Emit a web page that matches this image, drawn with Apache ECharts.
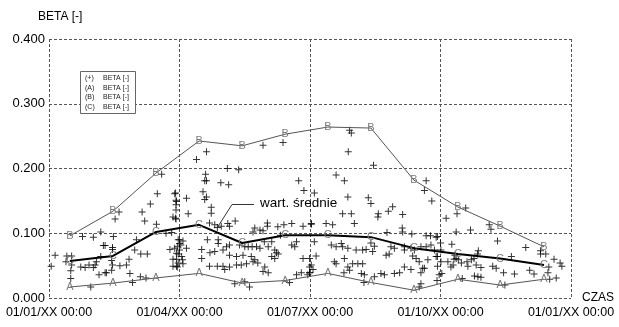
<!DOCTYPE html>
<html>
<head>
<meta charset="utf-8">
<script src="https://cdn.jsdelivr.net/npm/echarts@6/dist/echarts.min.js"></script>
<style>html,body{margin:0;padding:0;background:#fff;}#c{width:619px;height:327px;}</style>
</head>
<body>
<div id="c"></div>
<script>
// x positions in months from 01/01
var monthPos = [0.48, 1.47, 2.46, 3.45, 4.44, 5.43, 6.41, 7.40, 8.39, 9.40, 10.37, 11.38];
var seriesA = [0.017, 0.023, 0.031, 0.038, 0.023, 0.027, 0.038, 0.024, 0.012, 0.029, 0.020, 0.029];
var seriesB = [0.096, 0.134, 0.193, 0.2425, 0.235, 0.253, 0.264, 0.2625, 0.182, 0.1405, 0.111, 0.079];
var seriesC = [0.057, 0.065, 0.102, 0.113, 0.085, 0.097, 0.097, 0.094, 0.077, 0.068, 0.061, 0.051];
var xTickLabels = ['01/01/XX 00:00', '01/04/XX 00:00', '01/07/XX 00:00', '01/10/XX 00:00', '01/01/XX 00:00'];
var legendRows = [['(+)', 'BETA [-]'], ['(A)', 'BETA [-]'], ['(B)', 'BETA [-]'], ['(C)', 'BETA [-]']];
var scatterPoints = [
[2.59,0.191],[2.49,0.161],[2.89,0.161],[2.33,0.145],[2.93,0.149],[1.61,0.133],[2.14,0.133],[1.52,0.122],[2.2,0.119],[2.47,0.114],[2.85,0.125],[2.92,0.122],[0.77,0.095],[1.02,0.094],[1.19,0.102],[1.48,0.095],[2.69,0.100],[2.82,0.101],[0.14,0.066],[0.41,0.065],[0.52,0.065],[0.39,0.056],[0.05,0.049],[1.25,0.081],[1.29,0.081],[1.46,0.078],[1.46,0.075],[2.01,0.090],[1.97,0.074],[2.11,0.068],[2.26,0.068],[1.84,0.060],[1.19,0.064],[1.09,0.056],[0.73,0.048],[0.83,0.047],[1.02,0.047],[1.06,0.051],[0.92,0.051],[0.52,0.051],[0.5,0.042],[0.5,0.030],[1.44,0.058],[1.46,0.051],[1.63,0.050],[1.78,0.051],[1.15,0.036],[1.29,0.039],[1.32,0.039],[1.44,0.043],[0.96,0.017],[1.86,0.038],[1.92,0.024],[2.1,0.033],[2.23,0.031],[2.78,0.075],[2.89,0.077],[3.0,0.074],[2.97,0.090],[3.0,0.084],[2.85,0.060],[2.93,0.060],[2.85,0.049],[2.93,0.049],[3.07,0.059],[2.97,0.068],
[3.62,0.226],[3.39,0.214],[4.92,0.236],[5.38,0.240],[4.10,0.200],[4.36,0.198],[3.60,0.191],[3.62,0.181],[3.58,0.181],[3.95,0.178],[4.13,0.175],[5.74,0.181],[5.86,0.166],[3.54,0.164],[3.62,0.156],[3.58,0.152],[3.16,0.154],[2.91,0.162],[2.92,0.151],[2.92,0.144],[2.92,0.136],[3.73,0.140],[3.73,0.131],[3.2,0.130],[2.91,0.123],
[3.69,0.116],[3.81,0.113],[3.87,0.109],[3.96,0.111],[4.11,0.115],[4.15,0.111],[4.28,0.119],
[4.73,0.108],[4.85,0.105],[4.69,0.102],[5.02,0.116],[5.02,0.111],[4.92,0.104],[5.26,0.110],[5.40,0.113],[5.32,0.097],[5.58,0.115],[5.84,0.111],[6.03,0.114],
[3.0,0.090],[3.08,0.088],[2.95,0.079],[3.03,0.082],[3.16,0.077],[2.93,0.069],[3.05,0.064],[2.97,0.054],[2.95,0.048],
[3.64,0.090],[3.89,0.090],[3.89,0.084],[4.08,0.079],[4.15,0.082],[4.38,0.082],
[4.5,0.079],[4.58,0.079],[4.67,0.079],[4.77,0.079],[4.85,0.077],[4.95,0.087],[5.04,0.079],[5.12,0.087],
[5.19,0.074],[5.23,0.070],[5.27,0.068],[5.12,0.064],[5.19,0.061],
[5.58,0.082],[5.65,0.079],[5.69,0.087],
[3.51,0.075],[3.70,0.070],[3.81,0.072],[4.0,0.074],[4.15,0.066],[4.31,0.064],[4.46,0.066],
[4.65,0.064],[4.73,0.059],[4.69,0.056],[4.80,0.054],[4.92,0.041],[5.04,0.039],[4.96,0.048],
[3.69,0.049],[3.87,0.049],[4.0,0.049],[4.04,0.044],[4.15,0.048],[4.31,0.051],[4.42,0.051],[4.54,0.053],
[3.51,0.061],[3.08,0.053],
[4.61,0.017],[4.27,0.022],[4.5,0.025],
[5.53,0.024],[5.69,0.036],[5.80,0.039],
[5.99,0.048],[5.99,0.039],[5.95,0.036],[5.84,0.061],
[6.91,0.259],[6.95,0.255],[6.88,0.226],[7.46,0.205],[6.60,0.190],[6.79,0.181],[8.67,0.181],[8.63,0.166],[8.80,0.150],[6.10,0.162],[6.87,0.156],[7.34,0.155],[7.40,0.146],[7.90,0.141],[7.80,0.134],[7.57,0.130],[7.56,0.125],[8.13,0.129],[6.75,0.130],[6.95,0.130],[7.02,0.115],[6.03,0.115],[6.37,0.115],[6.52,0.113],[8.12,0.108],[8.13,0.102],[8.34,0.099],[8.67,0.096],[8.77,0.096],[8.9,0.094],[7.77,0.101],
[6.10,0.087],[6.49,0.082],[6.60,0.079],[6.72,0.084],[6.75,0.079],[6.87,0.077],[7.06,0.074],[7.21,0.074],[7.29,0.075],[7.40,0.085],[7.48,0.080],[7.44,0.072],[7.75,0.066],[7.82,0.068],[7.86,0.079],[7.94,0.077],
[8.17,0.079],[8.17,0.074],[8.32,0.077],[8.40,0.074],[8.36,0.065],[8.55,0.079],[8.67,0.079],[8.78,0.082],[8.86,0.074],[9.01,0.074],[8.44,0.061],[8.51,0.056],[8.71,0.059],[8.59,0.046],[8.55,0.039],[8.63,0.046],
[5.99,0.061],[6.14,0.065],[6.03,0.051],[6.07,0.044],[5.99,0.039],[6.56,0.056],[6.60,0.053],[6.79,0.061],[6.87,0.048],[6.98,0.053],[7.10,0.053],[7.21,0.053],[6.91,0.043],[6.78,0.039],
[7.18,0.038],[7.25,0.036],[7.24,0.024],[7.48,0.033],[7.63,0.038],[7.71,0.036],[7.94,0.038],[8.06,0.039],
[8.55,0.022],[8.51,0.017],[8.17,0.048],[8.32,0.044],[8.9,0.064],[9.01,0.056],
[9.58,0.139],[9.38,0.130],[9.13,0.123],[10.12,0.113],[10.16,0.106],[9.36,0.102],[9.69,0.105],[8.93,0.095],[9.0,0.085],[9.26,0.083],[10.31,0.088],[10.96,0.078],[9.87,0.073],[9.85,0.068],
[10.63,0.064],[11.3,0.068],[11.42,0.068],[11.61,0.060],[11.75,0.054],[11.79,0.049],
[9.33,0.066],[9.36,0.061],[9.31,0.060],[9.17,0.056],[9.48,0.054],[9.61,0.056],[9.71,0.059],[9.77,0.061],[9.63,0.049],[9.82,0.051],[9.93,0.047],[9.29,0.051],[9.24,0.048],[9.41,0.059],
[10.2,0.049],[10.28,0.046],[10.45,0.039],[10.70,0.037],[9.78,0.034],[9.86,0.033],[9.93,0.032],[11.05,0.043],[11.15,0.037],[11.47,0.039],[11.49,0.048],[11.51,0.029],[11.66,0.031],
[8.93,0.064],[8.93,0.049],[8.97,0.036],[8.92,0.027],[9.03,0.038],[11.3,0.073],[9.5,0.030],[10.48,0.020]
];

var FONT = 'Arial, "Liberation Sans", sans-serif';
function pairs(ys) { return ys.map(function (v, i) { return [monthPos[i], v]; }); }
function letterSeries(name, ys, letter, lineColor, lineWidth) {
  return {
    type: 'line', name: name, data: pairs(ys), z: 3,
    symbol: 'circle', symbolSize: 8, showSymbol: true,
    itemStyle: { color: 'rgba(0,0,0,0)', borderWidth: 0 },
    lineStyle: { color: lineColor, width: lineWidth },
    label: { show: true, position: 'inside', formatter: letter, color: '#7a7a7a', fontSize: 11, fontFamily: FONT },
    emphasis: { disabled: true }, silent: true, animation: false
  };
}
var grid = { left: 49, right: 48, top: 39, bottom: 29 };
var legendGraphics = [{
  type: 'rect', left: 80, top: 71, shape: { width: 55, height: 42 },
  style: { fill: '#fff', stroke: '#666', lineWidth: 1 }, z: 10
}];
legendRows.forEach(function (r, i) {
  legendGraphics.push({ type: 'text', left: 85, top: 74.5 + i * 9.6, z: 11,
    style: { text: r[0], font: '7px ' + FONT, fill: '#222' } });
  legendGraphics.push({ type: 'text', left: 103, top: 74.5 + i * 9.6, z: 11,
    style: { text: r[1], font: '7px ' + FONT, fill: '#222' } });
});

var chart = echarts.init(document.getElementById('c'), null, { renderer: 'canvas' });
chart.setOption({
  animation: false,
  backgroundColor: '#fff',
  grid: grid,
  xAxis: {
    type: 'value', min: 0, max: 12, interval: 3,
    name: 'CZAS', nameLocation: 'end', nameGap: 11,
    nameTextStyle: { color: '#000', fontSize: 12, fontFamily: FONT },
    axisLine: { show: false }, axisTick: { show: false },
    axisLabel: { color: '#000', fontSize: 12.5, fontFamily: FONT, margin: 8,
      formatter: function (v) { return xTickLabels[Math.round(v / 3)]; } },
    splitLine: { show: true, showMinLine: true, showMaxLine: true, lineStyle: { color: '#555', type: [3, 2], width: 1 } }
  },
  yAxis: {
    type: 'value', min: 0, max: 0.4, interval: 0.1,
    axisLine: { show: false }, axisTick: { show: false },
    axisLabel: { color: '#000', fontSize: 13, fontFamily: FONT, margin: 4,
      formatter: function (v) { return v.toFixed(3); } },
    splitLine: { show: true, showMinLine: true, showMaxLine: true, lineStyle: { color: '#555', type: [3, 2], width: 1 } }
  },
  graphic: [
    { type: 'text', left: 38, top: 11, style: { text: 'BETA [-]', font: '12px ' + FONT, fill: '#000' } },
    { type: 'polyline', shape: { points: [[254, 204.5], [232, 204.5], [217, 228]] },
      style: { stroke: '#333', lineWidth: 1, fill: null }, z: 5 },
    { type: 'text', left: 260, top: 196, z: 5, style: { text: 'wart. średnie', font: '13.5px ' + FONT, fill: '#000' } }
  ].concat(legendGraphics),
  series: [
    {
      type: 'scatter', name: '+', data: scatterPoints, z: 2,
      symbol: 'path://M3,0h1v3h3v1h-3v3h-1v-3h-3v-1h3z', symbolSize: 7,
      itemStyle: { color: '#000' }, silent: true, animation: false
    },
    letterSeries('A', seriesA, 'A', '#555', 1),
    letterSeries('B', seriesB, 'B', '#555', 1),
    letterSeries('C', seriesC, 'C', '#000', 2)
  ]
});
</script>
</body>
</html>
